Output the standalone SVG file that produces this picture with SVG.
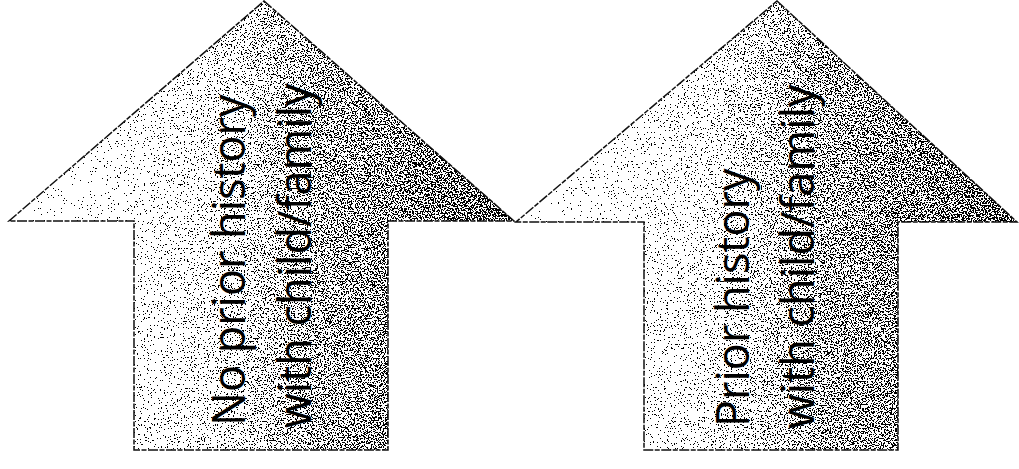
<svg xmlns="http://www.w3.org/2000/svg" width="1019" height="469" viewBox="0 0 1019 469">
  <style>
    .outline { fill: none; stroke: #111; stroke-width: 1.5; stroke-dasharray: 10 1.5 5 1.5; }
    .base { fill: #ffffff; }
    .lbl { font-family: "Open Sans", "Noto Sans", "DejaVu Sans", sans-serif; font-size: 45px; fill: #000; }
  </style>
  <defs>
    <linearGradient id="dens" x1="0" y1="0" x2="1" y2="0">
      <stop offset="0" stop-color="#000" stop-opacity="0"/>
      <stop offset="0.4" stop-color="#000" stop-opacity="0.35"/>
      <stop offset="0.6" stop-color="#000" stop-opacity="0.65"/>
      <stop offset="1" stop-color="#000" stop-opacity="0.9"/>
    </linearGradient>
    <filter id="speckle" x="0" y="0" width="1" height="1" color-interpolation-filters="sRGB">
      <feTurbulence type="fractalNoise" baseFrequency="0.7" numOctaves="2" seed="7" result="noise"/>
      <feColorMatrix in="noise" type="matrix" values="0 0 0 0 0  0 0 0 0 0  0 0 0 0 0  1 0 0 0 0" result="na"/>
      <feComposite in="na" in2="SourceAlpha" operator="arithmetic" k1="0" k2="3" k3="0.9" k4="-1.75" result="c"/>
      <feComponentTransfer in="c">
        <feFuncA type="discrete" tableValues="0 1"/>
      </feComponentTransfer>
    </filter>
    <clipPath id="clipL">
      <path d="M264,1 L514,221 L388,221 L388,450 L134,450 L134,221 L9,221 Z"/>
    </clipPath>
    <clipPath id="clipR">
      <path d="M777,1 L1017,222 L898,222 L898,450 L644,450 L644,222 L516,222 Z"/>
    </clipPath>
  </defs>

  <g id="arrow-no-prior">
    <path class="base" d="M264,1 L514,221 L388,221 L388,450 L134,450 L134,221 L9,221 Z"/>
    <g clip-path="url(#clipL)">
      <rect x="9" y="0" width="506" height="451" fill="url(#dens)" filter="url(#speckle)"/>
    </g>
    <path class="outline" d="M264,1 L514,221 L388,221 L388,450 L134,450 L134,221 L9,221 Z"/>
    <text class="lbl" transform="translate(245,426) rotate(-90)">No prior history</text>
    <text class="lbl" transform="translate(311,428) rotate(-90)">with child/family</text>
  </g>

  <g id="arrow-prior">
    <path class="base" d="M777,1 L1017,222 L898,222 L898,450 L644,450 L644,222 L516,222 Z"/>
    <g clip-path="url(#clipR)">
      <rect x="516" y="0" width="502" height="451" fill="url(#dens)" filter="url(#speckle)"/>
    </g>
    <path class="outline" d="M777,1 L1017,222 L898,222 L898,450 L644,450 L644,222 L516,222 Z"/>
    <text class="lbl" transform="translate(749,427) rotate(-90)">Prior history</text>
    <text class="lbl" transform="translate(814,429) rotate(-90)">with child/family</text>
  </g>

  <g id="connectors"></g>
</svg>
